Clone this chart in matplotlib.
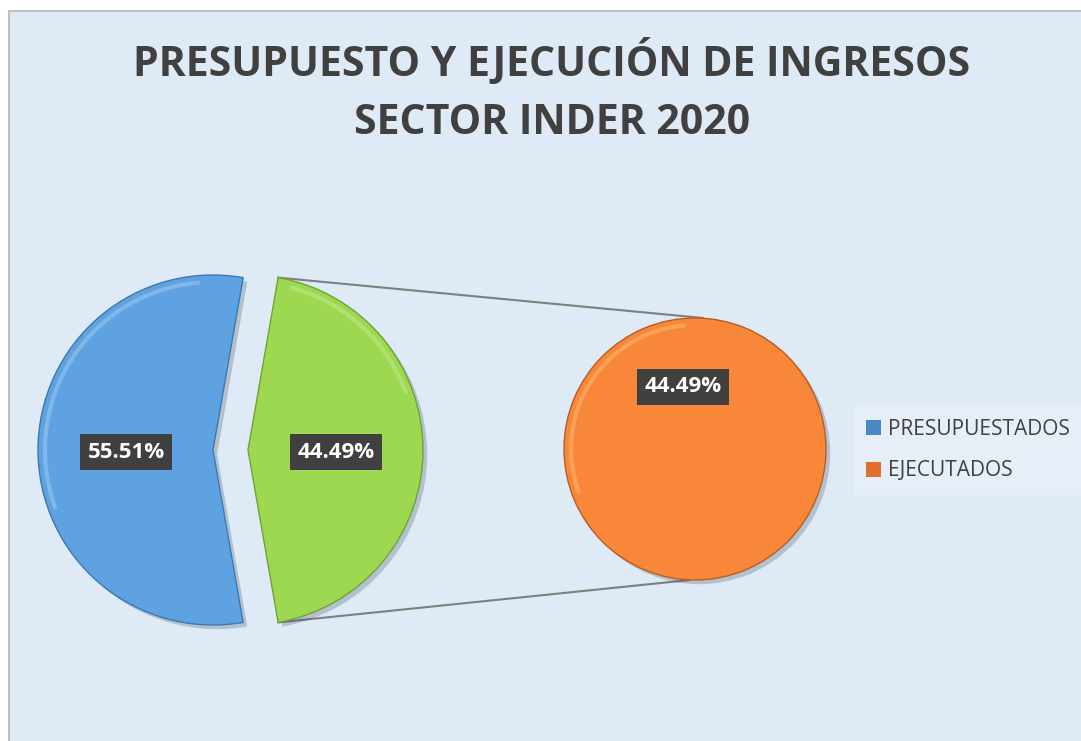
import numpy as np
import matplotlib.pyplot as plt
import matplotlib.patheffects as pe
from matplotlib.patches import Rectangle

# datos
categorias = ['PRESUPUESTADOS', 'EJECUTADOS']
valores_principal = [55.51, 44.49]
valores_secundario = [44.49]
etiquetas_principal = ['55.51%', '44.49%']
etiquetas_secundario = ['44.49%']

AZUL = '#5FA2E1'
VERDE = '#9DD850'
NARANJA = '#F8873A'
FONDO = '#DEEAF6'

W, H = 1081, 741
fig = plt.figure(figsize=(W / 100, H / 100), dpi=100)
fig.patch.set_facecolor('white')
ax = fig.add_axes([0, 0, 1, 1])
ax.set_xlim(0, W)
ax.set_ylim(0, H)
ax.set_aspect('equal')
ax.axis('off')

# area del grafico
ax.add_patch(Rectangle((9, -5), W, H - 11 + 5, facecolor=FONDO,
                       edgecolor='#BFBFBF', lw=1.5, zorder=0))

sombra = [pe.SimplePatchShadow(offset=(3, -3), alpha=0.25, shadow_rgbFace='#33475b'), pe.Normal()]

# pastel principal
c1 = (213, H - 450)
r1 = 175
sep = 35
frac_verde = valores_principal[1] / sum(valores_principal)
inicio = frac_verde * 180
w1, _ = ax.pie(valores_principal, colors=[AZUL, VERDE], center=c1, radius=r1,
               startangle=inicio, explode=[0, sep], frame=True)
for w, borde in zip(w1, ['#3D78B0', '#6FA33A']):
    w.set_edgecolor(borde)
    w.set_linewidth(1.0)
    w.set_path_effects(sombra)
    w.set_zorder(2)

# pastel secundario
c2 = (695, H - 449)
r2 = 131
w2, _ = ax.pie(valores_secundario, colors=[NARANJA], center=c2, radius=r2, frame=True,
               wedgeprops=dict(edgecolor='#B85E22', linewidth=1.0))
for w in w2:
    w.set_path_effects(sombra)
    w.set_zorder(2)

# brillo del bisel
for cx, cy, r, t1, t2, col in [(c1[0], c1[1], r1, 95, 200, '#A9CFF2'),
                               (c1[0] + sep, c1[1], r1, 20, 75, '#C8EC98'),
                               (c2[0], c2[1], r2, 95, 200, '#FFC07F')]:
    th = np.radians(np.linspace(t1, t2, 100))
    rr = r - 7
    ax.plot(cx + rr * np.cos(th), cy + rr * np.sin(th), color=col, lw=3, alpha=0.45,
            solid_capstyle='round', zorder=3)

# lineas de conexion
ang = np.radians(inicio)
xa = c1[0] + sep + r1 * np.cos(ang)
ya_sup = c1[1] + r1 * np.sin(ang)
ya_inf = c1[1] - r1 * np.sin(ang)
ax.plot([xa, c2[0] + 8], [ya_sup, c2[1] + r2], color='#7F7F7F', lw=1.5, zorder=1)
ax.plot([xa, c2[0] - 5], [ya_inf, c2[1] - r2], color='#7F7F7F', lw=1.5, zorder=1)

# etiquetas
caja = dict(boxstyle='square,pad=0.35', facecolor='#404040', edgecolor='none')
posiciones = [(126, H - 452), (336, H - 452)]
for (x, y), t in zip(posiciones, etiquetas_principal):
    ax.text(x, y, t, color='white', fontsize=16, fontweight='bold', family='Open Sans',
            ha='center', va='center', bbox=caja, zorder=5)
ax.text(683, H - 387, etiquetas_secundario[0], color='white', fontsize=16, fontweight='bold',
        family='Open Sans', ha='center', va='center', bbox=caja, zorder=5)

# titulo
ax.text(552, H - 62, 'PRESUPUESTO Y EJECUCIÓN DE INGRESOS', fontsize=29.5, fontweight='bold',
        family='Open Sans', color='#404040', ha='center', va='center')
ax.text(552, H - 123, 'SECTOR INDER 2020', fontsize=29.5, fontweight='bold',
        family='Open Sans', color='#404040', ha='center', va='center')

# leyenda
ax.add_patch(Rectangle((855, H - 495), 240, 90, facecolor='#E6EEF7', edgecolor='none', zorder=1))
marcas = [Rectangle((0, 0), 1, 1, facecolor='#4A88C4', edgecolor='none'),
          Rectangle((0, 0), 1, 1, facecolor='#E0712A', edgecolor='none')]
ley = ax.legend(marcas, categorias, loc='center left', bbox_to_anchor=(847 / W, 1 - 450 / H),
                frameon=False, handlelength=0.75, handleheight=0.75,
                handletextpad=0.3, labelspacing=1.0, prop={'family': 'Open Sans', 'size': 15})
for t in ley.get_texts():
    t.set_color('#404040')

fig.savefig('out.png', dpi=100, facecolor='white')
